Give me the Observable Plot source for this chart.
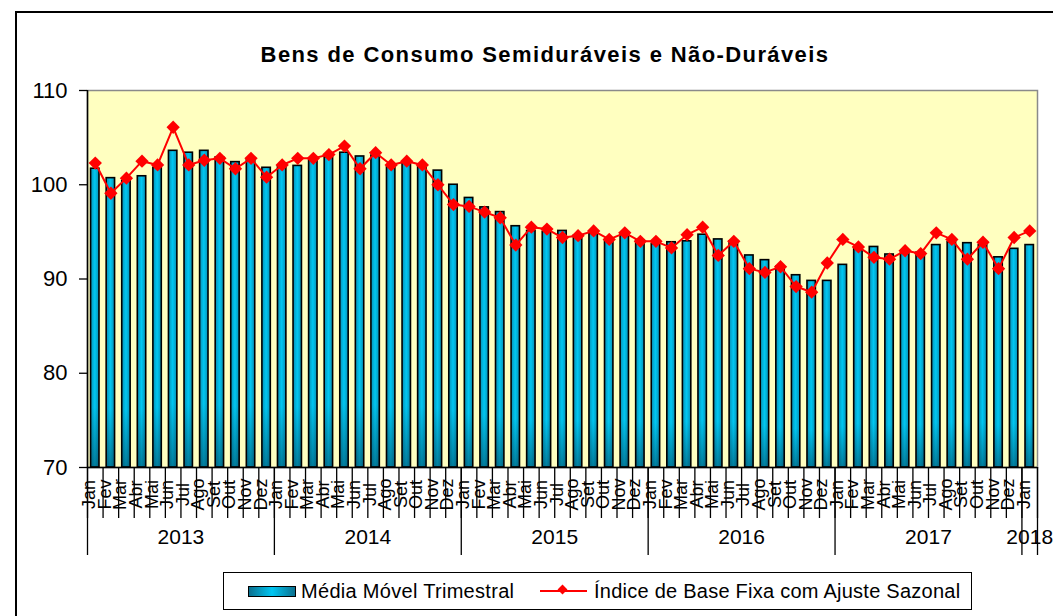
<!DOCTYPE html>
<html><head><meta charset="utf-8">
<script src="https://cdn.jsdelivr.net/npm/d3@7"></script>
<script src="https://cdn.jsdelivr.net/npm/@observablehq/plot@0.6"></script>
<style>
html,body{margin:0;padding:0;background:#fff;}
body{width:1053px;height:616px;position:relative;overflow:hidden;font-family:"Liberation Sans",Arial,sans-serif;}
#frame{position:absolute;left:15px;top:11px;width:1100px;height:700px;border:2px solid #000;box-sizing:border-box;}
#title{position:absolute;left:0;width:1090px;top:42px;text-align:center;font-weight:bold;font-size:22px;letter-spacing:1.4px;color:#000;}
#chart{position:absolute;left:0;top:0;}
#legend{position:absolute;left:223px;top:572px;width:749px;height:38px;border:1.5px solid #000;box-sizing:border-box;background:#fff;font-size:20px;color:#000;}
#legend .sw{position:absolute;left:24px;top:13px;width:48px;height:11px;border:1.5px solid #000;box-sizing:border-box;background:linear-gradient(90deg,#0a6f8e 0%,#00c6f2 50%,#0a6f8e 100%);}
#legend .t1{position:absolute;left:77px;top:7px;white-space:nowrap;letter-spacing:0.3px;}
#legend .ln{position:absolute;left:316px;top:17px;width:47px;height:2px;background:#f00;}
#legend .dm{position:absolute;left:335px;top:13px;width:7px;height:7px;background:#f00;transform:rotate(45deg);}
#legend .t2{position:absolute;left:370px;top:7px;white-space:nowrap;letter-spacing:0.25px;}
</style></head>
<body>
<div id="frame"></div>
<div id="chart"></div>
<div id="title">Bens de Consumo Semiduráveis e Não-Duráveis</div>
<div id="legend"><div class="sw"></div><div class="t1">Média Móvel Trimestral</div><div class="ln"></div><div class="dm"></div><div class="t2">Índice de Base Fixa com Ajuste Sazonal</div></div>
<script>
const monthNames = ["Jan","Fev","Mar","Abr","Mai","Jun","Jul","Ago","Set","Out","Nov","Dez"];
const years = [2013, 2014, 2015, 2016, 2017, 2018];
const monthsPerYear = [12, 12, 12, 12, 12, 1];
const yTicks = [70, 80, 90, 100, 110];

// Média Móvel Trimestral (bars)
const media = [
  101.7, 100.7, 100.4, 100.9, 101.8, 103.6, 103.4, 103.6, 102.9, 102.4, 102.6, 101.8,
  102.0, 102.0, 102.6, 102.9, 103.4, 103.0, 103.1, 101.9, 102.4, 101.9, 101.5, 100.0,
  98.6, 97.6, 97.1, 95.6, 95.1, 95.0, 95.1, 94.6, 94.8, 94.1, 94.7, 94.1,
  93.7, 93.9, 94.0, 94.7, 94.2, 94.0, 92.5, 92.0, 91.3, 90.4, 89.8, 89.8,
  91.5, 93.2, 93.4, 92.6, 92.7, 92.8, 93.6, 93.9, 93.8, 93.6, 92.3, 93.2,
  93.6
];
// Índice de Base Fixa com Ajuste Sazonal (line)
const indice = [
  102.3, 99.1, 100.7, 102.5, 102.1, 106.1, 102.1, 102.6, 102.8, 101.7, 102.8, 100.8,
  102.1, 102.8, 102.8, 103.2, 104.1, 101.7, 103.4, 102.1, 102.5, 102.1, 100.0, 97.9,
  97.7, 97.1, 96.5, 93.6, 95.5, 95.3, 94.4, 94.6, 95.1, 94.2, 94.9, 94.0,
  94.0, 93.3, 94.7, 95.5, 92.5, 94.0, 91.1, 90.7, 91.3, 89.2, 88.6, 91.7,
  94.2, 93.4, 92.3, 92.1, 93.0, 92.7, 94.9, 94.2, 92.1, 93.9, 91.1, 94.4,
  95.1
];

const rows = [];
years.forEach((yr, k) => {
  for (let m = 0; m < monthsPerYear[k]; m++) {
    const i = rows.length;
    rows.push({i, month: monthNames[m], year: yr, media: media[i], indice: indice[i]});
  }
});
const n = rows.length;
const monthBounds = rows.map(d => d.i).concat([n]);
const yearRows = [];
let start = 0;
years.forEach((yr, k) => {
  yearRows.push({year: String(yr), start, end: start + monthsPerYear[k]});
  start += monthsPerYear[k];
});
const yearBounds = yearRows.map(d => d.start).concat([n]);

const svg = Plot.plot({
  width: 1053, height: 616,
  marginLeft: 87, marginRight: 16, marginTop: 90, marginBottom: 149,
  style: {background: "transparent", fontFamily: "'Liberation Sans', Arial, sans-serif", fontSize: "22px", color: "#000", overflow: "visible"},
  x: {domain: [0, n], axis: null},
  y: {domain: [70, 110], axis: null},
  marks: [
    Plot.frame({fill: "#FFFFC0", stroke: "#8a8a8a", strokeWidth: 1.5}),
    Plot.rect(rows, {x1: d => d.i + 0.23, x2: d => d.i + 0.77, y1: 70, y2: "media", fill: "url(#barH)"}),
    Plot.rect(rows, {x1: d => d.i + 0.23, x2: d => d.i + 0.77, y1: 70, y2: "media", fill: "url(#barV)"}),
    Plot.rect(rows, {x1: d => d.i + 0.23, x2: d => d.i + 0.77, y1: 70, y2: "media", fill: "none", stroke: "#000", strokeWidth: 1.6}),
    Plot.line(rows, {x: d => d.i + 0.5, y: "indice", stroke: "#ff0000", strokeWidth: 2}),
    Plot.dot(rows, {x: d => d.i + 0.5, y: "indice", symbol: "diamond2", r: 6, fill: "#ff0000", stroke: "none"}),
    Plot.axisY({ticks: yTicks, tickSize: 8, tickPadding: 12, tickFormat: d => String(d), fontSize: 22, label: null, stroke: "#000", strokeWidth: 1.3, fill: "#000"}),
    Plot.ruleX([0], {stroke: "#000", strokeWidth: 1.5}),
    Plot.ruleY([70], {stroke: "#000", strokeWidth: 1.5}),
    Plot.ruleX(monthBounds, {x: d => d, y1: 70, y2: 70, insetBottom: -51, stroke: "#000", strokeWidth: 1.3}),
    Plot.ruleX(yearBounds, {x: d => d, y1: 70, y2: 70, insetBottom: -88, stroke: "#000", strokeWidth: 1.3}),
    Plot.text(rows, {x: d => d.i + 0.5, frameAnchor: "bottom", dy: 27, text: "month", rotate: -90, fontSize: 18, fill: "#000"}),
    Plot.text(yearRows, {x: d => (d.start + d.end) / 2, frameAnchor: "bottom", dy: 76, text: "year", fontSize: 21, fill: "#000"})
  ]
});
svg.insertAdjacentHTML("afterbegin",
  '<defs>' +
  '<linearGradient id="barH" x1="0" x2="1" y1="0" y2="0">' +
  '<stop offset="0" stop-color="#078fb5"/><stop offset="0.5" stop-color="#00c8f2"/><stop offset="1" stop-color="#078fb5"/>' +
  '</linearGradient>' +
  '<linearGradient id="barV" x1="0" x2="0" y1="0" y2="1">' +
  '<stop offset="0" stop-color="#00354a" stop-opacity="0"/><stop offset="0.8" stop-color="#00354a" stop-opacity="0"/><stop offset="1" stop-color="#00354a" stop-opacity="0.5"/>' +
  '</linearGradient>' +
  '</defs>');
document.getElementById("chart").appendChild(svg);
</script>
</body></html>
